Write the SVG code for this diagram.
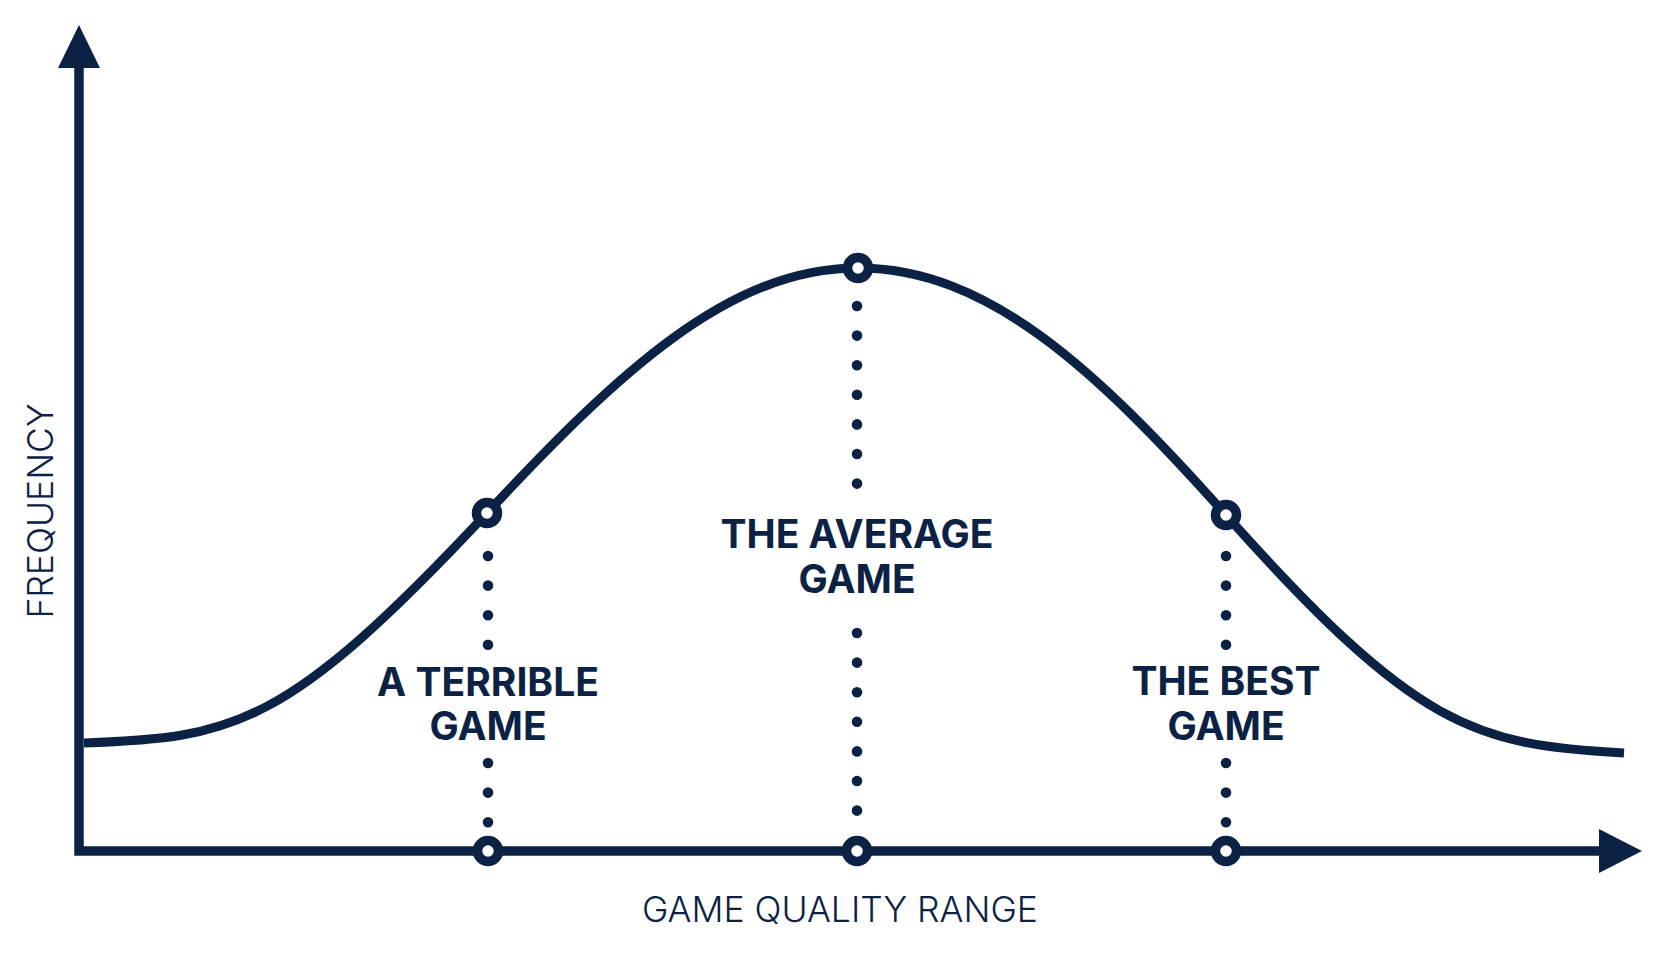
<svg xmlns="http://www.w3.org/2000/svg" width="1664" height="954" viewBox="0 0 1664 954">
<style>
.ink{fill:#0c2245}
.line{fill:none;stroke:#0c2245}
.axis{stroke-width:9.5;stroke-linejoin:miter}
.curve{stroke-width:9}
.dots{stroke-width:10.6;stroke-linecap:round;stroke-dasharray:0 29.6}
.pt{fill:#ffffff;stroke:#0c2245;stroke-width:9.5}
.lbl{font-family:Inter,"Liberation Sans",sans-serif;font-weight:700;font-size:39px;fill:#0c2245;text-anchor:middle}
.ax{font-family:Inter,"Liberation Sans",sans-serif;font-weight:300;font-size:35.5px;fill:#0c2245;text-anchor:middle}
</style>
<rect width="1664" height="954" fill="#ffffff"/>
<g id="axes">
<path class="line axis" d="M79,66 V851 H1602"/>
<polygon class="ink" points="79,25 58,68 100,68"/>
<polygon class="ink" points="1642,851 1599,829 1599,873"/>
<text class="ax" transform="translate(53,511) rotate(-90)">FREQUENCY</text>
<text class="ax" x="840" y="922">GAME QUALITY RANGE</text>
</g>
<g id="connectors">
<path id="curve" class="line curve" d="M84,743 C234,738 287,727 487,513 C617,374 728,268 858,268 C988,268 1096,369.4 1226,515 C1416,728 1474,745 1624,753"/>
<path class="line dots" d="M488,556 V646 M488,763 V824"/>
<path class="line dots" d="M857,306 V485 M857,633 V812"/>
<path class="line dots" d="M1226,556 V646 M1226,763 V824"/>
</g>
<g id="terrible">
<circle class="pt" cx="487" cy="513" r="10.5"/>
<circle class="pt" cx="488" cy="851" r="10.5"/>
<text class="lbl" x="488" y="696">A TERRIBLE</text>
<text class="lbl" x="488" y="740">GAME</text>
</g>
<g id="average">
<circle class="pt" cx="858" cy="268" r="10.5"/>
<circle class="pt" cx="857" cy="851" r="10.5"/>
<text class="lbl" x="857" y="548">THE AVERAGE</text>
<text class="lbl" x="857" y="593">GAME</text>
</g>
<g id="best">
<circle class="pt" cx="1226" cy="515" r="10.5"/>
<circle class="pt" cx="1226" cy="851" r="10.5"/>
<text class="lbl" x="1226" y="695">THE BEST</text>
<text class="lbl" x="1226" y="740">GAME</text>
</g>
</svg>
